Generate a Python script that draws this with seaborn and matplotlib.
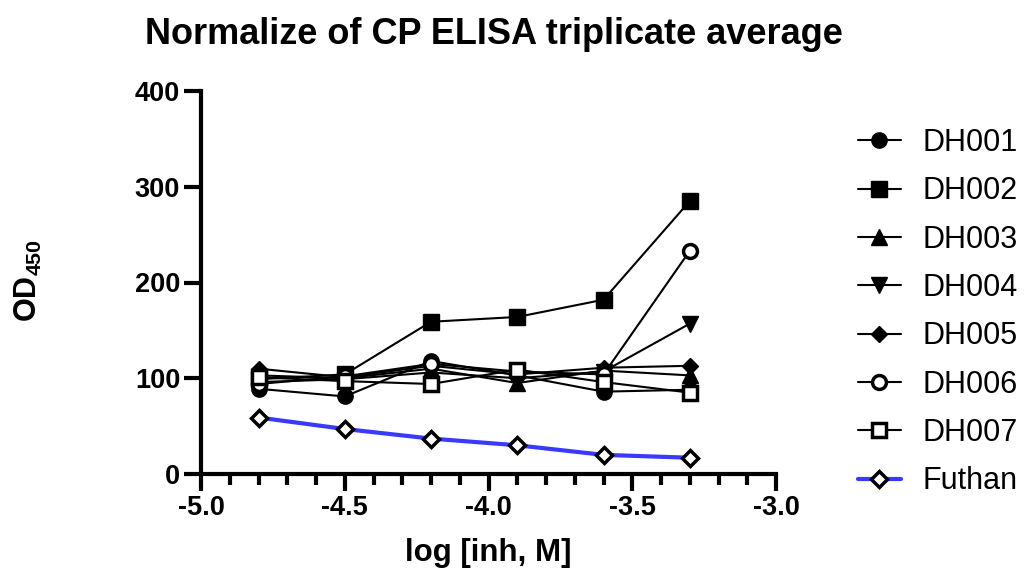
import matplotlib
matplotlib.use("Agg")
import matplotlib.pyplot as plt
import seaborn as sns
import pandas as pd
from matplotlib.ticker import MultipleLocator, FormatStrFormatter
from matplotlib.lines import Line2D

sns.set_theme(style="ticks")
plt.rcParams['font.family'] = ['Liberation Sans', 'DejaVu Sans']
plt.rcParams['text.color'] = 'black'
plt.rcParams['axes.labelcolor'] = 'black'
plt.rcParams['xtick.color'] = 'black'
plt.rcParams['ytick.color'] = 'black'
plt.rcParams['axes.edgecolor'] = 'black'
plt.rcParams['mathtext.fontset'] = 'custom'
plt.rcParams['mathtext.rm'] = 'Liberation Sans'
plt.rcParams['mathtext.bf'] = 'Liberation Sans:bold'

log_conc = [-4.8, -4.5, -4.2, -3.9, -3.6, -3.3]
series_names = ["DH001", "DH002", "DH003", "DH004", "DH005", "DH006", "DH007", "Futhan"]
DH001 = [89, 81, 118, 103, 86, 88]
DH002 = [99, 104, 159, 164, 182, 285]
DH003 = [103, 100, 110, 95, 108, 103]
DH004 = [96, 99, 106, 100, 107, 157]
DH005 = [110, 101, 113, 104, 111, 113]
DH006 = [94, 102, 115, 107, 104, 233]
DH007 = [101, 97, 94, 109, 96, 85]
Futhan = [59, 47, 37, 30, 20, 17]
values = [DH001, DH002, DH003, DH004, DH005, DH006, DH007, Futhan]

styles = {
    "DH001": dict(marker="o", mfc="black", ms=11),
    "DH002": dict(marker="s", mfc="black", ms=11),
    "DH003": dict(marker="^", mfc="black", ms=11),
    "DH004": dict(marker="v", mfc="black", ms=11),
    "DH005": dict(marker="D", mfc="black", ms=8),
    "DH006": dict(marker="o", mfc="white", ms=10),
    "DH007": dict(marker="s", mfc="white", ms=10),
    "Futhan": dict(marker="D", mfc="white", ms=8),
}

fig = plt.figure(figsize=(10.26, 5.75), dpi=100)
ax = fig.add_axes([201/1026, 1-474/575, (776-201)/1026, (474-91)/575])

handles = []
for name, vals in zip(series_names, values):
    df = pd.DataFrame({"x": log_conc, "y": vals})
    st = styles[name]
    is_f = name == "Futhan"
    kw = dict(color="#3a3aff" if is_f else "black",
              linewidth=3 if is_f else 1.5,
              marker=st["marker"], markersize=st["ms"],
              markerfacecolor=st["mfc"], markeredgecolor="black",
              markeredgewidth=2.5 if st["mfc"] == "white" else 1)
    sns.lineplot(data=df, x="x", y="y", ax=ax, zorder=3, legend=False, **kw)
    handles.append(Line2D([], [], label=name, **kw))

ax.set_xlim(-5.0, -3.0)
ax.set_ylim(0, 400)
ax.xaxis.set_major_locator(MultipleLocator(0.5))
ax.xaxis.set_minor_locator(MultipleLocator(0.1))
ax.yaxis.set_major_locator(MultipleLocator(100))
ax.xaxis.set_major_formatter(FormatStrFormatter('%.1f'))

for s in ["top", "right"]:
    ax.spines[s].set_visible(False)
for s in ["left", "bottom"]:
    ax.spines[s].set_linewidth(3)
ax.tick_params(axis="both", which="major", direction="out", length=12, width=3,
               labelsize=19.5, pad=3)
ax.tick_params(axis="x", which="minor", direction="out", length=8, width=3)
for lab in ax.get_xticklabels() + ax.get_yticklabels():
    lab.set_fontweight("bold")

ax.set_xlabel("log [inh, M]", fontsize=22.5, fontweight="bold", labelpad=12)
ax.set_ylabel("OD$_\\mathbf{450}$", fontsize=22, fontweight="bold")
ax.yaxis.set_label_coords((44-201)/575, (474-281)/383)
fig.suptitle("Normalize of CP ELISA triplicate average", x=145/1026, y=1-17/575,
             ha="left", va="top", fontsize=26, fontweight="bold")

ax.legend(handles=handles, loc="upper left", bbox_to_anchor=(858/1026, 1-128/575),
          bbox_transform=fig.transFigure, frameon=False, fontsize=22,
          handlelength=1.4, labelspacing=0.6, handletextpad=0.7, borderaxespad=0,
          borderpad=0)

fig.savefig("out.png", dpi=100)
